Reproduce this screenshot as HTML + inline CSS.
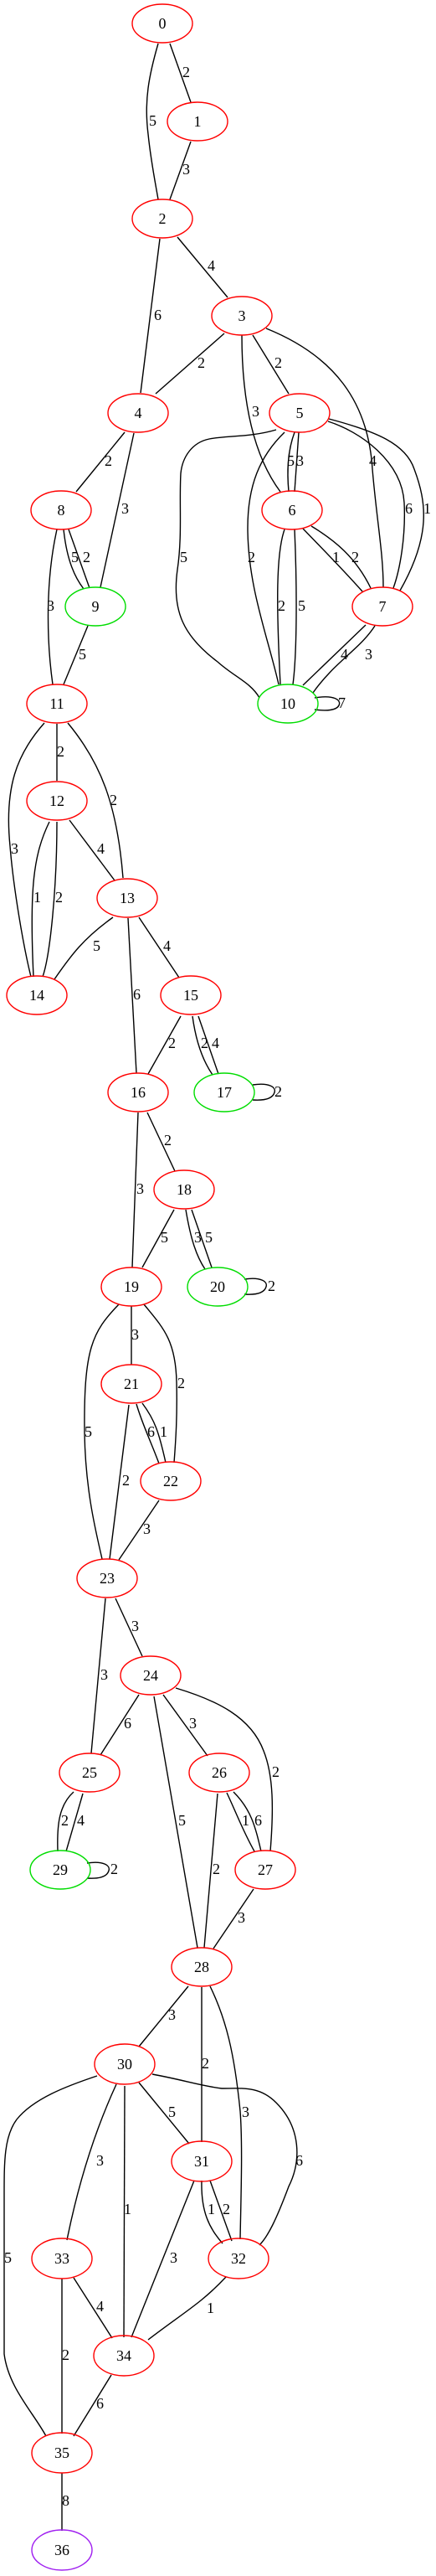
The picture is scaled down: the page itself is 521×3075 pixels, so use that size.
<!DOCTYPE html>
<html><head><meta charset="utf-8"><style>
html,body{margin:0;padding:0;background:#fff;}
svg{display:block;}
text{font-family:"Liberation Serif",serif;font-size:18px;fill:#000;}
.n text{text-anchor:middle;}
path{fill:none;stroke:#000;stroke-width:1.4;}
ellipse{fill:none;stroke-width:1.4;}
.r{stroke:#f00}.g{stroke:#0d0}.p{stroke:#a020f0}
</style></head><body>
<svg width="521" height="3075" viewBox="0 0 521 3075" xmlns="http://www.w3.org/2000/svg">
<g>
<path d="M189,52 C178,90 172,120 177,160 C180,190 185,215 189,238"/>
<path d="M203,52 L228,122"/>
<path d="M228,169 L203,238"/>
<path d="M191,285 L168,469"/>
<path d="M212,283 L272,355"/>
<path d="M268,398 L186,470"/>
<path d="M289,400 C289,470 300,540 335,587"/>
<path d="M302,400 L345,470"/>
<path d="M318,392 C400,425 440,480 445,560 C450,620 458,660 458,701"/>
<path d="M149,516 L91,587"/>
<path d="M160,517 L120,701"/>
<path d="M352,516 C343,540 343,565 345,587"/>
<path d="M357,516 L352,587"/>
<path d="M330,513 C300,522 270,520 250,524 C230,528 218,545 216,565 C214,600 218,640 212,680 C205,730 220,760 260,790 C280,808 300,815 310,833"/>
<path d="M340,516 C310,545 296,580 296,630 C296,700 320,760 333,817"/>
<path d="M392,503 C430,515 480,550 483,600 C485,640 478,680 470,702"/>
<path d="M393,500 C450,515 485,530 495,560 C510,600 515,640 478,705"/>
<path d="M340,632 C330,660 330,720 335,817"/>
<path d="M352,632 C355,700 355,780 350,817"/>
<path d="M362,631 C390,660 410,680 433,706"/>
<path d="M372,628 C400,645 425,665 443,702"/>
<path d="M437,746 L362,818"/>
<path d="M448,747 C430,775 400,790 374,827"/>
<path d="M376,833 C400,829 408,836 405,842 C402,848 390,849 376,847"/>
<path d="M76,632 C80,670 90,690 100,703"/>
<path d="M82,632 L107,702"/>
<path d="M68,632 C55,690 55,760 63,817"/>
<path d="M105,747 L76,817"/>
<path d="M68,864 L68,932"/>
<path d="M81,863 C120,910 140,960 147,1048"/>
<path d="M53,863 C20,900 5,940 12,1010 C16,1060 28,1130 37,1166"/>
<path d="M59,981 C40,1020 35,1060 40,1166"/>
<path d="M68,981 C68,1060 60,1140 51,1166"/>
<path d="M83,979 L137,1051"/>
<path d="M135,1095 C100,1120 85,1140 65,1169"/>
<path d="M153,1096 L163,1281"/>
<path d="M166,1095 L214,1167"/>
<path d="M216,1213 L177,1282"/>
<path d="M230,1213 C235,1250 245,1270 254,1283"/>
<path d="M237,1213 L261,1282"/>
<path d="M302,1295 C322,1292 330,1298 328,1304 C326,1311 318,1314 302,1313"/>
<path d="M176,1328 L209,1398"/>
<path d="M165,1328 L158,1513"/>
<path d="M208,1444 L170,1513"/>
<path d="M222,1444 C228,1480 235,1500 245,1515"/>
<path d="M229,1444 L253,1513"/>
<path d="M292,1527 C312,1524 320,1530 318,1536 C316,1543 308,1546 292,1545"/>
<path d="M157,1559 L157,1629"/>
<path d="M172,1557 C195,1585 210,1600 211,1650 C212,1690 210,1720 208,1746"/>
<path d="M142,1557 C110,1590 100,1610 101,1710 C102,1780 115,1830 122,1861"/>
<path d="M163,1676 C170,1700 180,1720 190,1747"/>
<path d="M170,1675 C185,1695 190,1710 198,1746"/>
<path d="M154,1677 L131,1861"/>
<path d="M190,1791 L142,1862"/>
<path d="M138,1908 L170,1977"/>
<path d="M126,1908 L109,2093"/>
<path d="M166,2023 L120,2095"/>
<path d="M195,2023 L248,2096"/>
<path d="M210,2015 C260,2030 300,2050 315,2090 C327,2120 327,2160 323,2210"/>
<path d="M184,2025 L236,2325"/>
<path d="M88,2139 C70,2155 68,2180 69,2210"/>
<path d="M99,2141 L79,2210"/>
<path d="M104,2224 C124,2221 132,2227 130,2233 C128,2240 120,2243 104,2242"/>
<path d="M271,2140 C285,2170 290,2185 304,2210"/>
<path d="M279,2139 C300,2160 305,2180 312,2210"/>
<path d="M260,2141 L244,2325"/>
<path d="M303,2255 L255,2326"/>
<path d="M225,2371 L166,2443"/>
<path d="M241,2372 L241,2557"/>
<path d="M251,2371 C270,2410 280,2450 287,2520 C290,2560 288,2620 287,2673"/>
<path d="M166,2486 L226,2559"/>
<path d="M182,2476 C220,2483 240,2490 265,2493 C290,2493 310,2490 330,2510 C360,2540 360,2580 345,2610 C330,2650 320,2670 310,2680"/>
<path d="M139,2488 C115,2540 95,2600 80,2674"/>
<path d="M149,2490 L148,2790"/>
<path d="M116,2478 C80,2490 40,2505 20,2530 C5,2550 5,2580 5,2620 C5,2700 5,2780 5,2810 C10,2850 40,2880 55,2908"/>
<path d="M241,2603 C240,2640 250,2660 266,2678"/>
<path d="M251,2603 L277,2675"/>
<path d="M232,2603 L157,2790"/>
<path d="M270,2718 C240,2750 220,2760 177,2793"/>
<path d="M88,2719 L134,2791"/>
<path d="M74,2720 L74,2905"/>
<path d="M133,2835 L88,2908"/>
<path d="M74,2952 L74,3021"/>
</g>
<g>
<text x="178" y="150">5</text><text x="218" y="92">2</text><text x="218" y="208">3</text>
<text x="184" y="382">6</text><text x="248" y="323">4</text><text x="236" y="439">2</text>
<text x="301" y="497">3</text><text x="328" y="439">2</text><text x="441" y="556">4</text>
<text x="125" y="556">2</text><text x="145" y="613">3</text>
<text x="343" y="556">5</text><text x="354" y="556">3</text>
<text x="215" y="671">5</text><text x="296" y="671">2</text>
<text x="484" y="613">6</text><text x="506" y="613">1</text>
<text x="332" y="729">2</text><text x="356" y="729">5</text>
<text x="397" y="671">1</text><text x="420" y="671">2</text>
<text x="407" y="787">4</text><text x="436" y="787">3</text><text x="404" y="845">7</text>
<text x="85" y="671">5</text><text x="99" y="671">2</text><text x="56" y="729">3</text><text x="94" y="787">5</text>
<text x="68" y="903">2</text><text x="131" y="961">2</text><text x="13" y="1019">3</text>
<text x="40" y="1077">1</text><text x="66" y="1077">2</text><text x="116" y="1019">4</text>
<text x="111" y="1135">5</text><text x="159" y="1193">6</text><text x="195" y="1135">4</text>
<text x="201" y="1251">2</text><text x="240" y="1251">2</text><text x="253" y="1251">4</text><text x="328" y="1309">2</text>
<text x="196" y="1367">2</text><text x="163" y="1425">3</text><text x="192" y="1483">5</text>
<text x="232" y="1483">3</text><text x="245" y="1483">5</text><text x="320" y="1541">2</text>
<text x="157" y="1599">3</text><text x="212" y="1657">2</text><text x="101" y="1715">5</text>
<text x="176" y="1715">6</text><text x="191" y="1715">1</text><text x="146" y="1773">2</text><text x="171" y="1831">3</text>
<text x="157" y="1947">3</text><text x="120" y="2005">3</text><text x="148" y="2063">6</text><text x="226" y="2063">3</text>
<text x="325" y="2121">2</text><text x="213" y="2179">5</text>
<text x="73" y="2179">2</text><text x="92" y="2179">4</text><text x="132" y="2237">2</text>
<text x="289" y="2179">1</text><text x="304" y="2179">6</text><text x="254" y="2237">2</text><text x="284" y="2295">3</text>
<text x="201" y="2411">3</text><text x="241" y="2469">2</text><text x="289" y="2527">3</text>
<text x="201" y="2527">5</text><text x="353" y="2585">6</text><text x="115" y="2585">3</text>
<text x="148" y="2643">1</text><text x="5" y="2701">5</text>
<text x="248" y="2643">1</text><text x="266" y="2643">2</text><text x="203" y="2701">3</text>
<text x="247" y="2761">1</text><text x="115" y="2759">4</text><text x="74" y="2817">2</text>
<text x="115" y="2875">6</text><text x="74" y="2991">8</text>
</g>
<g class="n">
<ellipse class="r" cx="194" cy="28" rx="36" ry="23"/><text x="194" y="34">0</text>
<ellipse class="r" cx="236" cy="145" rx="36" ry="23"/><text x="236" y="151">1</text>
<ellipse class="r" cx="194" cy="261" rx="36" ry="23"/><text x="194" y="267">2</text>
<ellipse class="r" cx="289" cy="377" rx="36" ry="23"/><text x="289" y="383">3</text>
<ellipse class="r" cx="165" cy="493" rx="36" ry="23"/><text x="165" y="499">4</text>
<ellipse class="r" cx="358" cy="493" rx="36" ry="23"/><text x="358" y="499">5</text>
<ellipse class="r" cx="349" cy="609" rx="36" ry="23"/><text x="349" y="615">6</text>
<ellipse class="r" cx="457" cy="724" rx="36" ry="23"/><text x="457" y="730">7</text>
<ellipse class="r" cx="73" cy="609" rx="36" ry="23"/><text x="73" y="615">8</text>
<ellipse class="g" cx="114" cy="724" rx="36" ry="23"/><text x="114" y="730">9</text>
<ellipse class="g" cx="344" cy="840" rx="36" ry="23"/><text x="344" y="846">10</text>
<ellipse class="r" cx="68" cy="840" rx="36" ry="23"/><text x="68" y="846">11</text>
<ellipse class="r" cx="68" cy="956" rx="36" ry="23"/><text x="68" y="962">12</text>
<ellipse class="r" cx="152" cy="1072" rx="36" ry="23"/><text x="152" y="1078">13</text>
<ellipse class="r" cx="44" cy="1188" rx="36" ry="23"/><text x="44" y="1194">14</text>
<ellipse class="r" cx="228" cy="1188" rx="36" ry="23"/><text x="228" y="1194">15</text>
<ellipse class="r" cx="165" cy="1304" rx="36" ry="23"/><text x="165" y="1310">16</text>
<ellipse class="g" cx="268" cy="1304" rx="36" ry="23"/><text x="268" y="1310">17</text>
<ellipse class="r" cx="220" cy="1420" rx="36" ry="23"/><text x="220" y="1426">18</text>
<ellipse class="r" cx="157" cy="1536" rx="36" ry="23"/><text x="157" y="1542">19</text>
<ellipse class="g" cx="260" cy="1536" rx="36" ry="23"/><text x="260" y="1542">20</text>
<ellipse class="r" cx="157" cy="1652" rx="36" ry="23"/><text x="157" y="1658">21</text>
<ellipse class="r" cx="204" cy="1768" rx="36" ry="23"/><text x="204" y="1774">22</text>
<ellipse class="r" cx="128" cy="1884" rx="36" ry="23"/><text x="128" y="1890">23</text>
<ellipse class="r" cx="180" cy="2000" rx="36" ry="23"/><text x="180" y="2006">24</text>
<ellipse class="r" cx="107" cy="2116" rx="36" ry="23"/><text x="107" y="2122">25</text>
<ellipse class="r" cx="262" cy="2116" rx="36" ry="23"/><text x="262" y="2122">26</text>
<ellipse class="r" cx="317" cy="2232" rx="36" ry="23"/><text x="317" y="2238">27</text>
<ellipse class="g" cx="72" cy="2232" rx="36" ry="23"/><text x="72" y="2238">29</text>
<ellipse class="r" cx="241" cy="2348" rx="36" ry="23"/><text x="241" y="2354">28</text>
<ellipse class="r" cx="149" cy="2464" rx="36" ry="24"/><text x="149" y="2470">30</text>
<ellipse class="r" cx="241" cy="2580" rx="36" ry="24"/><text x="241" y="2586">31</text>
<ellipse class="r" cx="285" cy="2696" rx="36" ry="24"/><text x="285" y="2702">32</text>
<ellipse class="r" cx="74" cy="2696" rx="36" ry="24"/><text x="74" y="2702">33</text>
<ellipse class="r" cx="148" cy="2812" rx="36" ry="24"/><text x="148" y="2818">34</text>
<ellipse class="r" cx="74" cy="2928" rx="36" ry="24"/><text x="74" y="2934">35</text>
<ellipse class="p" cx="74" cy="3044" rx="36" ry="24"/><text x="74" y="3050">36</text>
</g>
</svg>
</body></html>
